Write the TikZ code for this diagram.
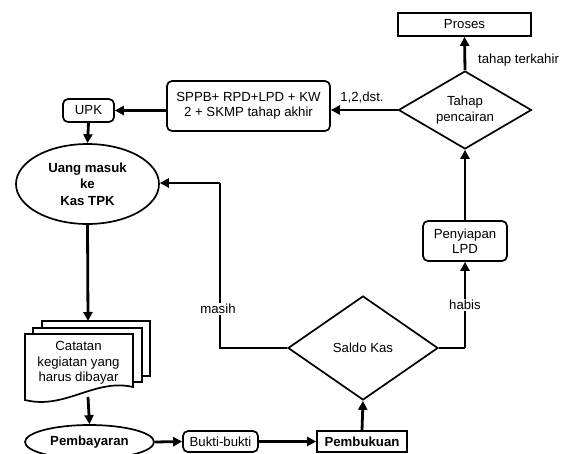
\documentclass[tikz,border=0pt]{standalone}
\usepackage{fontspec}
\setmainfont{Liberation Sans}
\usepackage{tikz}
\usetikzlibrary{shapes.geometric,arrows.meta}
\tikzset{every node/.style={font=\fontsize{13.2}{15.5}\selectfont,align=center,inner sep=0pt},
         box/.style={draw,rectangle,line width=1.7pt},
         roundbox/.style={box,rounded corners=5pt},
         decision/.style={draw,diamond,line width=1.7pt},
         terminal/.style={draw,ellipse,line width=1.7pt,font=\fontsize{13.2}{16.5}\selectfont\bfseries},
         sheet/.style={draw,line width=1.7pt,fill=white},
         flow/.style={draw,line width=2.8pt,-{Triangle[length=9pt,width=9pt]}},
         plain/.style={draw,line width=2.8pt},
         tag/.style={fill=white,inner sep=1pt}}

\begin{document}
\begin{tikzpicture}[x=1pt,y=-1pt]
  \useasboundingbox (0,0) rectangle (562,453);
  \node[box,minimum width=133,minimum height=23] (proses) at (464.5,24.5) {Proses};
  \node[decision,minimum width=133,minimum height=78,aspect=1.7] (tahap) at (465,110) {Tahap\\pencairan};
  \node[roundbox,minimum width=163,minimum height=50] (sppb) at (248.5,106) {SPPB+ RPD+LPD + KW\\2 + SKMP tahap akhir};
  \node[roundbox,minimum width=51,minimum height=23] (upk) at (88.5,110.5) {UPK};
  \node[terminal,minimum width=143,minimum height=80] (uang) at (87.5,184) {Uang masuk\\ke\\Kas TPK};
  \node[roundbox,minimum width=84,minimum height=40] (lpd) at (465,241) {Penyiapan\\LPD};
  \node[decision,minimum width=150,minimum height=104,aspect=1.44] (saldo) at (363,348) {Saldo Kas};
  \path[sheet] (42,328) -- (42,321) -- (150,321) -- (150,376) -- (142,376);
  \path[sheet] (33,334) -- (33,328) -- (142,328) -- (142,382) -- (133,382);
  \path[sheet] (25,334) -- (133,334) -- (133,387) .. controls (95,378) and (65,410) .. (25,400) -- cycle;
  \node (catatan) at (78.5,363) {Catatan\\kegiatan yang\\harus dibayar};
  \coordinate (cattop) at (88,321);
  \coordinate (catbot) at (88,397);
  \node[terminal,minimum width=129,minimum height=34] (bayar) at (89.5,442) {Pembayaran};
  \node[roundbox,minimum width=75,minimum height=21] (bukti) at (220.5,441.5) {Bukti-bukti};
  \node[box,minimum width=90,minimum height=21,font=\fontsize{13.2}{15.5}\selectfont\bfseries] (buku) at (362,441.5) {Pembukuan};
  \coordinate (masihtop) at (220,183);
  \coordinate (masihbot) at (220,348);
  \coordinate (habisbot) at (465,348);
  \path[flow] (tahap.north) -- (proses.south);
  \node[anchor=west] at (478,60) {tahap terkahir};
  \path[flow] (tahap.west) -- (sppb.east |- tahap.west);
  \node at (362,98) {1,2,dst.};
  \path[flow] (sppb.west |- upk.east) -- (upk.east);
  \path[flow] (upk.south) -- (uang.north);
  \path[flow] (uang.south) -- (cattop);
  \path[flow] (catbot) -- (bayar.north);
  \path[flow] (bayar.east) -- (bukti.west);
  \path[flow] (bukti.east) -- (buku.west);
  \path[flow] (buku.north) -- (saldo.south);
  \path[plain] (saldo.west) -- (masihbot) -- (masihtop);
  \path[flow] (masihtop) -- (uang.east |- masihtop);
  \node[tag] at (218,309) {masih};
  \path[plain] (saldo.east) -- (habisbot);
  \path[flow] (habisbot) -- (lpd.south);
  \node[tag] at (465,305) {habis};
  \path[flow] (lpd.north) -- (tahap.south);
\end{tikzpicture}
\end{document}
